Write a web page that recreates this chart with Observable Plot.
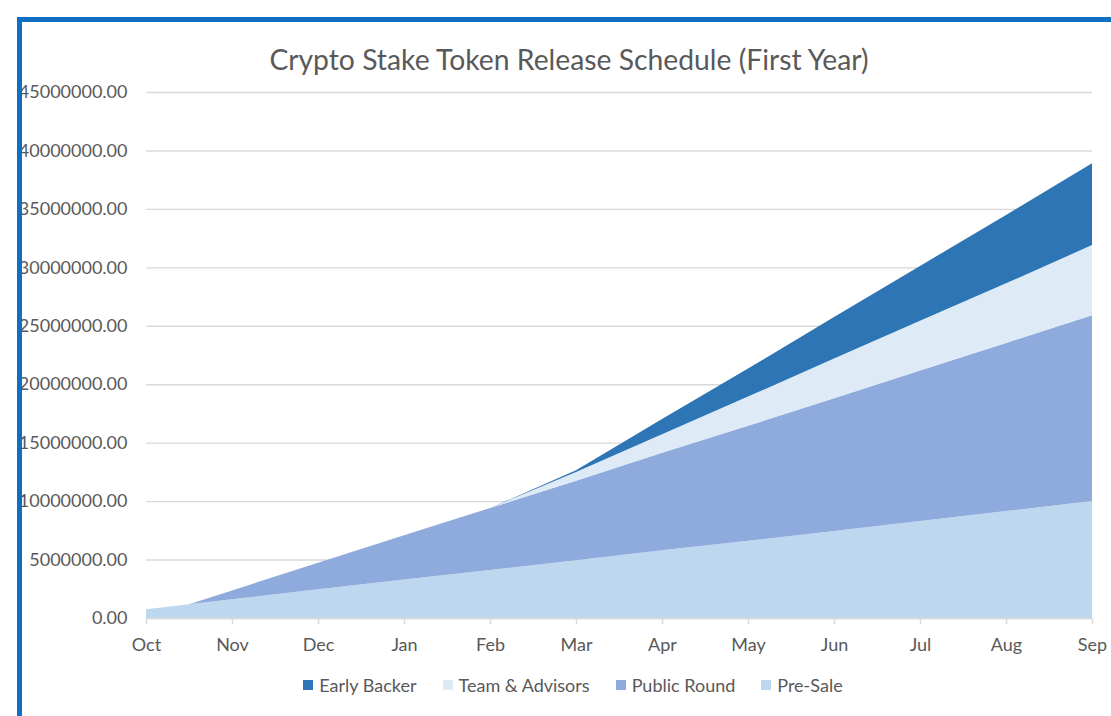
<!DOCTYPE html>
<html>
<head>
<meta charset="utf-8">
<script src="https://cdn.jsdelivr.net/npm/d3@7"></script>
<script src="https://cdn.jsdelivr.net/npm/@observablehq/plot@0.6"></script>
<style>
  html, body { margin: 0; padding: 0; background: #fff; }
  #root { position: relative; width: 1111px; height: 716px; overflow: hidden; background: #fff; font-family: Lato, "Liberation Sans", sans-serif; color: #595959; }
  #frame { position: absolute; left: 17px; top: 17px; width: 1300px; height: 900px; border-top: 5px solid #0F6FC3; border-left: 5px solid #0F6FC3; z-index: 5; pointer-events: none; }
  #title { position: absolute; left: 0; top: 44px; width: 1138px; text-align: center; font-size: 28.3px; line-height: 30px; color: #595959; white-space: nowrap; }
  #chart { position: absolute; left: 0; top: 0; }
  #legend { position: absolute; left: 0; top: 675px; width: 1146px; display: flex; justify-content: center; gap: 26px; font-size: 18px; line-height: 20px; color: #595959; }
  .item { display: flex; align-items: center; gap: 6px; white-space: nowrap; }
  .sw { width: 10px; height: 10px; display: inline-block; }
</style>
</head>
<body>
<div id="root">
  <div id="frame"></div>
  <div id="title">Crypto Stake Token Release Schedule (First Year)</div>
  <div id="chart"></div>
  <div id="legend"></div>
</div>
<script>
// Month labels of the category axis
const months = ["Oct","Nov","Dec","Jan","Feb","Mar","Apr","May","Jun","Jul","Aug","Sep"];
const monthTicks = [0,1,2,3,4,5,6,7,8,9,10,11];
// Sample positions (in months from Oct)
const periods = [0, 0.5, 1, 2, 3, 4, 5, 6, 7, 8, 9, 10, 11];
// Series values (tokens released, cumulative)
const preSale      = [750000, 1170000, 1600000, 2450000, 3300000, 4100000, 4950000, 5800000, 6600000, 7450000, 8300000, 9150000, 10000000];
const publicRound  = [0, 0, 760000, 2270000, 3790000, 5300000, 6800000, 8330000, 9840000, 11360000, 12870000, 14380000, 15900000];
const teamAdvisors = [0, 0, 0, 0, 0, 0, 750000, 1600000, 2500000, 3400000, 4250000, 5100000, 6000000];
const earlyBacker  = [0, 0, 0, 0, 0, 0, 150000, 1300000, 2400000, 3550000, 4700000, 5850000, 7000000];
// Legend order and colours
const seriesNames  = ["Early Backer", "Team & Advisors", "Public Round", "Pre-Sale"];
const seriesColors = ["#2E75B6", "#DEEBF7", "#8FAADC", "#BDD7EE"];
const stackOrder   = ["Pre-Sale", "Public Round", "Team & Advisors", "Early Backer"];
// Y tick values
const yTicks = [0, 5000000, 10000000, 15000000, 20000000, 25000000, 30000000, 35000000, 40000000, 45000000];

const valuesBySeries = {
  "Pre-Sale": preSale,
  "Public Round": publicRound,
  "Team & Advisors": teamAdvisors,
  "Early Backer": earlyBacker
};
const data = periods.flatMap((t, i) => stackOrder.map(s => ({t, s, v: valuesBySeries[s][i]})));

const chart = Plot.plot({
  width: 1111,
  height: 660,
  marginLeft: 146,
  marginRight: 19,
  marginTop: 92,
  marginBottom: 42,
  style: {fontFamily: "Lato, 'Liberation Sans', sans-serif", fontSize: "18px", color: "#595959", background: "transparent", overflow: "visible"},
  x: {domain: [0, 11], axis: null, label: null},
  y: {domain: [0, 45000000], axis: null, label: null},
  color: {domain: seriesNames, range: seriesColors},
  marks: [
    Plot.gridY(yTicks, {stroke: "#d9d9d9", strokeOpacity: 1, strokeWidth: 1.4}),
    Plot.areaY(data, {x: "t", y: "v", z: "s", fill: "s", order: stackOrder, curve: "linear"}),
    Plot.ruleY([0], {stroke: "#d9d9d9", strokeWidth: 1.4}),
    Plot.axisX(monthTicks, {label: null, tickSize: 6, stroke: "#d9d9d9", strokeWidth: 1.4, tickFormat: () => ""}),
    Plot.axisX(monthTicks, {label: null, tickSize: 0, tickPadding: 20, tickFormat: i => months[i], fill: "#595959", fontSize: 18}),
    Plot.axisY(yTicks, {label: null, tickSize: 0, tickPadding: 19, tickFormat: d3.format(".2f"), fill: "#595959", fontSize: 18})
  ]
});
document.getElementById("chart").appendChild(chart);

const legend = document.getElementById("legend");
seriesNames.forEach((name, i) => {
  const item = document.createElement("div");
  item.className = "item";
  const sw = document.createElement("span");
  sw.className = "sw";
  sw.style.background = seriesColors[i];
  const label = document.createElement("span");
  label.textContent = name;
  item.appendChild(sw);
  item.appendChild(label);
  legend.appendChild(item);
});
</script>
</body>
</html>
